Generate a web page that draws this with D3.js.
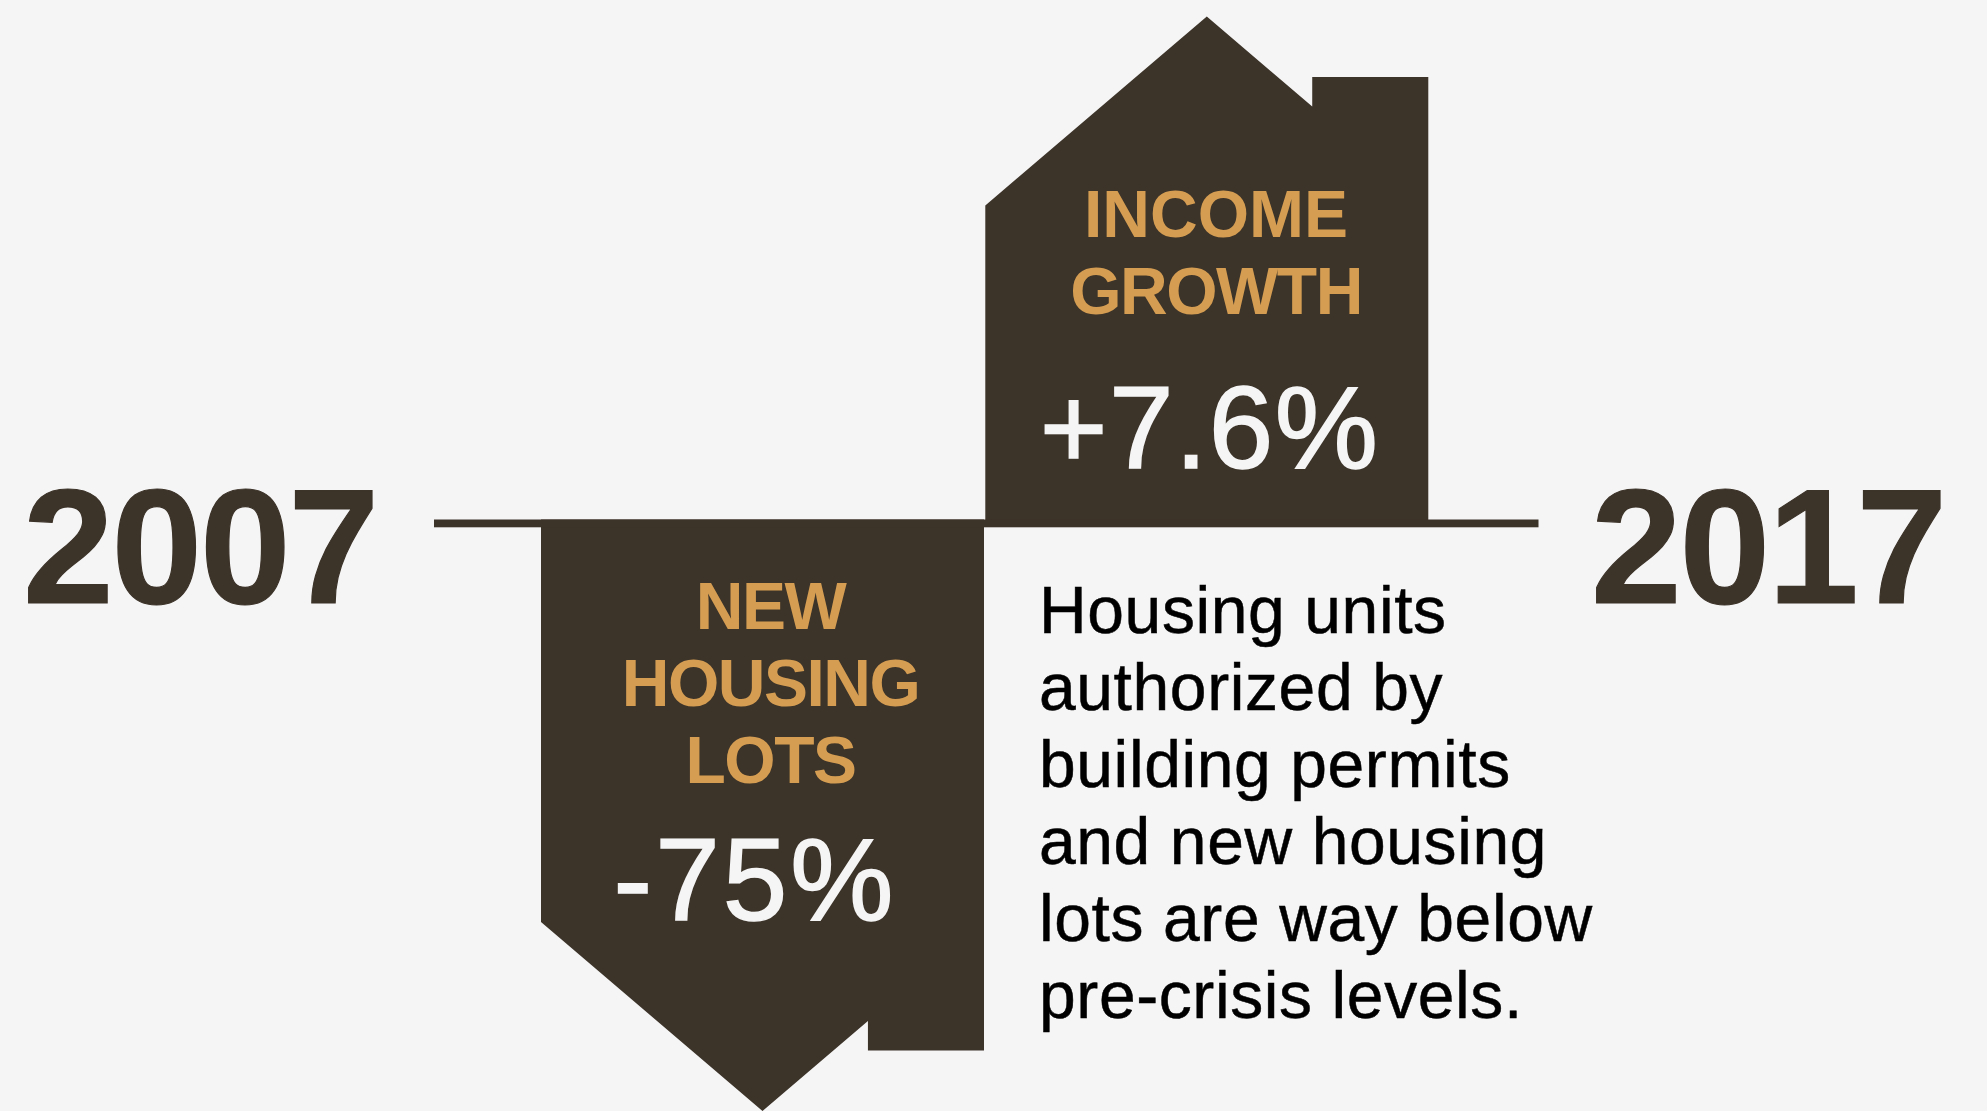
<!DOCTYPE html>
<html>
<head>
<meta charset="utf-8">
<script src="https://cdnjs.cloudflare.com/ajax/libs/d3/7.8.5/d3.min.js"></script>
<style>
  html, body { margin: 0; padding: 0; background: #f5f5f5; }
  svg { display: block; }
  text { font-family: "Liberation Sans", Arial, sans-serif; }
</style>
</head>
<body>
<svg id="chart"></svg>
<script>
const years = ["2007", "2017"];
const houseTitles = [["INCOME", "GROWTH"], ["NEW", "HOUSING", "LOTS"]];
const houseValues = ["+7.6%", "-75%"];
const noteLines = [
  "Housing units",
  "authorized by",
  "building permits",
  "and new housing",
  "lots are way below",
  "pre-crisis levels."
];

const width = 1987;
const height = 1111;
const dark = "#3c3329";
const gold = "#d49d52";
const offWhite = "#f5f5f5";

const svg = d3.select("#chart").attr("width", width).attr("height", height);

svg.append("rect").attr("width", width).attr("height", height).attr("fill", offWhite);

// house outline: roof is the same on both, only the wall height differs
const houseW = 443;
const roofH = 189;
const chimneyTop = 60.5;
const notchY = 90;
const chimneyX = 0.738;

function houseOutline(bodyH) {
  return [
    [0, 0],
    [0, bodyH],
    [0.5, bodyH + roofH],
    [chimneyX, bodyH + roofH - notchY],
    [chimneyX, bodyH + roofH - chimneyTop],
    [1, bodyH + roofH - chimneyTop],
    [1, 0]
  ];
}

function drawHouse(x0, baseY, dir, bodyH) {
  const x = d3.scaleLinear().domain([0, 1]).range([x0, x0 + houseW]);
  const y = d3.scaleLinear().domain([0, 1]).range([baseY, baseY + dir]);
  const line = d3.line().x(d => x(d[0])).y(d => y(d[1]));
  svg.append("path")
    .attr("d", line(houseOutline(bodyH)) + "Z")
    .attr("fill", dark);
}

drawHouse(985.3, 527, -1, 321.5);
drawHouse(541, 519.5, 1, 402.5);

// baseline between the years
svg.append("rect")
  .attr("x", 434).attr("y", 519.5)
  .attr("width", 1104.5).attr("height", 7.8)
  .attr("fill", dark);

const yearX = d3.scaleOrdinal().domain(years).range([200, 1768]);
svg.selectAll(".year")
  .data(years)
  .join("text")
  .attr("class", "year")
  .attr("x", d => yearX(d))
  .attr("y", 602.5)
  .attr("text-anchor", "middle")
  .attr("font-size", 163)
  .attr("font-weight", 700)
  .attr("letter-spacing", -2.2)
  .attr("stroke", dark)
  .attr("stroke-width", 1.2)
  .attr("fill", dark)
  .text(d => d);

function drawLabel(cx, lines, firstBase, lineGap, value, valueX, valueBase, valueSpacing) {
  svg.append("g").selectAll("text")
    .data(lines)
    .join("text")
    .attr("x", cx)
    .attr("y", (d, i) => firstBase + i * lineGap)
    .attr("text-anchor", "middle")
    .attr("font-size", 66)
    .attr("font-weight", 700)
    .attr("letter-spacing", d => d === "INCOME" ? 0 : -1.5)
    .attr("fill", gold)
    .text(d => d);
  svg.append("text")
    .attr("x", valueX)
    .attr("y", valueBase)
    .attr("text-anchor", "middle")
    .attr("font-size", 116)
    .attr("letter-spacing", valueSpacing)
    .attr("stroke", offWhite)
    .attr("stroke-width", 1.6)
    .attr("fill", offWhite)
    .text(value);
}

drawLabel(1216, houseTitles[0], 236.5, 77, houseValues[0], 1209.5, 468, 1.5);
drawLabel(770.5, houseTitles[1], 628.5, 77, houseValues[1], 755, 919.5, 3);

svg.append("g").selectAll("text")
  .data(noteLines)
  .join("text")
  .attr("x", 1039)
  .attr("y", (d, i) => 632.5 + i * 77.1)
  .attr("font-size", 66)
  .attr("letter-spacing", 0.6)
  .attr("stroke", "#000")
  .attr("stroke-width", 0.5)
  .attr("fill", "#000")
  .text(d => d);
</script>
</body>
</html>
